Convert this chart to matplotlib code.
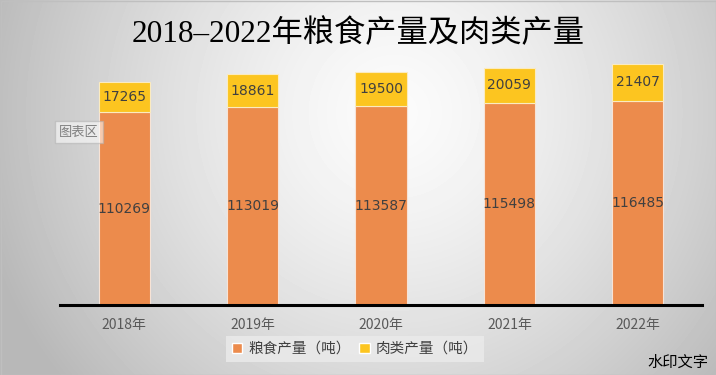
import matplotlib
matplotlib.use("Agg")
import matplotlib.pyplot as plt
import numpy as np
from matplotlib.patches import Patch

plt.rcParams["font.family"] = ["Noto Sans CJK SC", "DejaVu Sans"]

years = ["2018年", "2019年", "2020年", "2021年", "2022年"]
grain = [110269, 113019, 113587, 115498, 116485]
meat = [17265, 18861, 19500, 20059, 21407]

GRAIN_COLOUR = "#EC8B4C"
MEAT_COLOUR = "#FCC520"

W, H = 716, 375
fig = plt.figure(figsize=(W / 100, H / 100), dpi=100)

# radial grey background
bg = fig.add_axes([0, 0, 1, 1])
yy, xx = np.mgrid[0:H, 0:W]
r = np.sqrt(((xx - 0.55 * W) / (0.62 * W)) ** 2 + ((yy - 0.3 * H) / (0.62 * W)) ** 2)
shade = np.clip(0.985 - 0.28 * r ** 1.4, 0.72, 1.0)
bg.imshow(shade, cmap="gray", vmin=0, vmax=1, aspect="auto", extent=[0, W, H, 0])
bg.set_xlim(0, W)
bg.set_ylim(H, 0)
bg.axis("off")
bg.add_patch(plt.Rectangle((0.5, 0.5), W - 1, H - 1, fill=False, edgecolor="#BFBFBF", lw=1))

ax = fig.add_axes([60 / W, 70 / H, 642 / W, 245 / H])
ax.patch.set_alpha(0)
x = np.arange(len(years))
ax.bar(x, grain, width=0.4, color=GRAIN_COLOUR, edgecolor="#F7E3D6", linewidth=0.8, label="粮食产量（吨）")
ax.bar(x, meat, width=0.4, bottom=grain, color=MEAT_COLOUR, edgecolor="#FBEBC0", linewidth=0.8, label="肉类产量（吨）")

for i in range(len(years)):
    ax.text(x[i], grain[i] / 2, str(grain[i]), ha="center", va="center", fontsize=10,
            color="#404040", family="DejaVu Sans")
    ax.text(x[i], grain[i] + meat[i] / 2, str(meat[i]), ha="center", va="center", fontsize=10,
            color="#404040", family="DejaVu Sans")

ax.set_xlim(-0.5, 4.5)
ax.set_ylim(0, 140000)
ax.set_xticks(x)
ax.set_xticklabels(years, fontsize=10, color="#595959")
ax.tick_params(axis="x", length=0, pad=9)
ax.set_yticks([])
for s in ["top", "right", "left"]:
    ax.spines[s].set_visible(False)
ax.spines["bottom"].set_linewidth(2.2)
ax.spines["bottom"].set_color("black")

fig.text(358 / W, 1 - 34 / H, "2018–2022年粮食产量及肉类产量", ha="center", va="center",
         fontsize=22.5, fontweight="medium", family=["Liberation Serif", "Noto Sans CJK SC"], color="black")

handles = [Patch(facecolor=GRAIN_COLOUR, edgecolor="white"), Patch(facecolor=MEAT_COLOUR, edgecolor="white")]
leg = fig.legend(handles, ["粮食产量（吨）", "肉类产量（吨）"], loc="center",
                 bbox_to_anchor=(355 / W, 1 - 349 / H), ncol=2, frameon=True, fontsize=10.5,
                 handlelength=0.7, handleheight=0.7, handletextpad=0.4, columnspacing=0.6,
                 borderpad=0.4, fancybox=False)
leg.get_frame().set_facecolor("#EAEAEA")
leg.get_frame().set_edgecolor("none")
leg.get_frame().set_alpha(0.85)
for t in leg.get_texts():
    t.set_color("#404040")

# hover tooltip visible in the screenshot
fig.text(79 / W, 1 - 132 / H, "图表区", ha="center", va="center", fontsize=9.5, color="#808080",
         bbox=dict(boxstyle="square,pad=0.35", facecolor="white", alpha=0.55, edgecolor="#B0B0B0"))

fig.text(678 / W, 1 - 362 / H, "水印文字", ha="center", va="center", fontsize=11, color="black")

fig.savefig("out.png", dpi=100)
